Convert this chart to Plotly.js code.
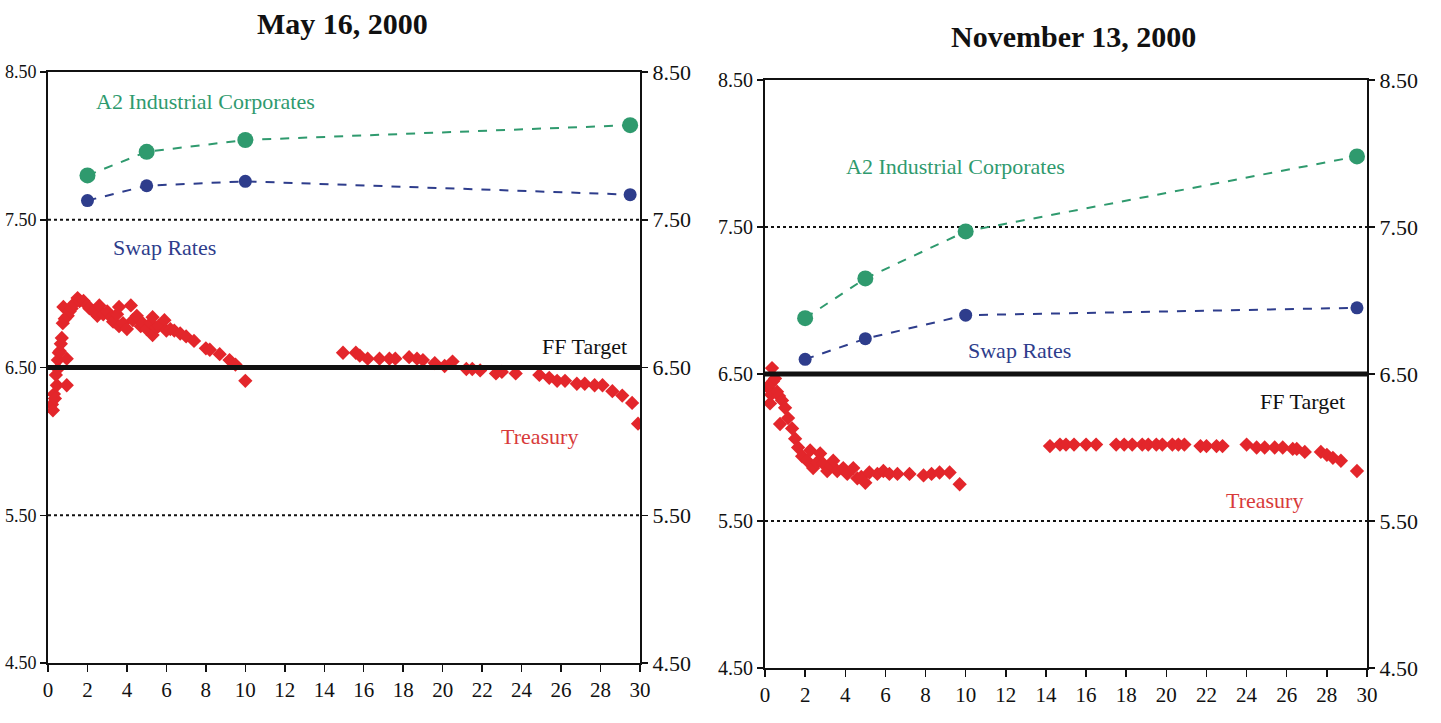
<!DOCTYPE html>
<html>
<head>
<meta charset="utf-8">
<script src="https://cdn.plot.ly/plotly-3.0.1.min.js"></script>
<style>html,body{margin:0;padding:0;background:#fff;}#chart{width:1441px;height:723px;}</style>
</head>
<body>
<div id="chart"></div>
<script>
// ---- Data ----
const panelTitles = ["May 16, 2000", "November 13, 2000"];
const xTickVals = [0,2,4,6,8,10,12,14,16,18,20,22,24,26,28,30];
const yTickVals = [4.5,5.5,6.5,7.5,8.5];
const ffTarget = 6.50;
const ffX = [0, 30];

// May 16, 2000
const mayCorpX = [2, 5, 10, 29.5];
const mayCorpY = [7.80, 7.96, 8.04, 8.14];
const maySwapX = [2, 5, 10, 29.5];
const maySwapY = [7.63, 7.73, 7.76, 7.67];
const mayTsyX = [0.2,0.25,0.3,0.35,0.4,0.45,0.5,0.5,0.55,0.6,0.65,0.7,0.75,0.78,0.85,0.95,0.95,1.0,1.1,1.2,1.3,1.5,1.6,1.8,2.0,2.1,2.3,2.5,2.6,2.8,3.0,3.2,3.3,3.5,3.6,3.6,3.8,4.0,4.2,4.3,4.5,4.7,4.8,5.0,5.2,5.3,5.3,5.5,5.6,5.9,6.0,6.2,6.4,6.7,7.0,7.4,8.0,8.2,8.7,9.2,9.5,10.0,
  14.95,15.6,15.8,16.2,16.8,17.3,17.6,18.3,18.7,19.0,19.6,20.1,20.5,21.2,21.5,21.9,22.7,23.0,23.7,24.9,25.4,25.8,26.2,26.8,27.2,27.7,28.1,28.6,29.1,29.6,29.9];
const mayTsyY = [6.25,6.21,6.32,6.29,6.45,6.38,6.49,6.55,6.60,6.61,6.66,6.70,6.80,6.91,6.83,6.38,6.56,6.85,6.88,6.90,6.93,6.97,6.95,6.95,6.92,6.90,6.88,6.85,6.92,6.86,6.88,6.84,6.81,6.86,6.91,6.78,6.80,6.76,6.92,6.82,6.85,6.78,6.80,6.76,6.80,6.72,6.84,6.77,6.78,6.82,6.75,6.76,6.75,6.73,6.71,6.68,6.63,6.62,6.59,6.55,6.52,6.41,
  6.60,6.60,6.58,6.56,6.56,6.56,6.56,6.57,6.56,6.55,6.53,6.51,6.54,6.49,6.49,6.48,6.46,6.47,6.46,6.45,6.43,6.41,6.41,6.39,6.39,6.38,6.38,6.34,6.31,6.26,6.12];

// November 13, 2000
const novCorpX = [2, 5, 10, 29.5];
const novCorpY = [6.88, 7.15, 7.47, 7.98];
const novSwapX = [2, 5, 10, 29.5];
const novSwapY = [6.60, 6.74, 6.90, 6.95];
const novTsyX = [0.2,0.25,0.25,0.3,0.35,0.4,0.5,0.6,0.7,0.75,0.85,1.0,1.15,1.35,1.5,1.65,1.85,2.1,2.25,2.4,2.6,2.75,2.9,3.1,3.3,3.4,3.6,3.9,4.1,4.4,4.6,4.8,5.0,5.2,5.6,5.9,6.2,6.6,7.2,7.9,8.3,8.7,9.2,9.7,
  14.2,14.7,15.0,15.4,16.0,16.5,17.5,17.9,18.3,18.8,19.1,19.5,19.8,20.3,20.6,20.9,21.7,22.0,22.5,22.8,24.0,24.5,24.9,25.4,25.8,26.3,26.5,26.9,27.7,28.0,28.3,28.7,29.5];
const novTsyY = [6.40,6.43,6.30,6.36,6.54,6.45,6.47,6.38,6.35,6.16,6.32,6.27,6.20,6.13,6.06,6.00,5.94,5.91,5.98,5.86,5.90,5.96,5.89,5.84,5.88,5.91,5.84,5.86,5.82,5.86,5.79,5.80,5.76,5.83,5.82,5.84,5.82,5.82,5.82,5.81,5.82,5.83,5.83,5.75,
  6.01,6.02,6.02,6.02,6.02,6.02,6.02,6.02,6.02,6.02,6.02,6.02,6.02,6.02,6.02,6.02,6.01,6.01,6.01,6.01,6.02,6.00,6.00,6.00,6.00,5.99,5.99,5.97,5.97,5.95,5.93,5.91,5.84];

// ---- Styles ----
const GREEN = '#2f9a6e', BLUE = '#2e3d8c', RED = '#e3262b';
const FONT = 'Liberation Serif';

function panel(xa, ya, ya2, corpX, corpY, swapX, swapY, tsyX, tsyY) {
  return [
    {x: ffX, y: [ffTarget, ffTarget], xaxis: xa, yaxis: ya2, mode: 'lines', line: {color: '#111', width: 5}, hoverinfo: 'skip'},
    {x: tsyX, y: tsyY, xaxis: xa, yaxis: ya, mode: 'markers', marker: {symbol: 'diamond', size: 11, color: RED}, name: 'Treasury'},
    {x: swapX, y: swapY, xaxis: xa, yaxis: ya, mode: 'lines+markers', line: {color: BLUE, width: 2, dash: 'dash'}, marker: {size: 13, color: BLUE}, name: 'Swap Rates'},
    {x: corpX, y: corpY, xaxis: xa, yaxis: ya, mode: 'lines+markers', line: {color: GREEN, width: 2, dash: 'dash'}, marker: {size: 16, color: GREEN}, name: 'A2 Industrial Corporates'}
  ];
}

const data = [].concat(
  panel('x', 'y', 'y2', mayCorpX, mayCorpY, maySwapX, maySwapY, mayTsyX, mayTsyY),
  panel('x2', 'y3', 'y4', novCorpX, novCorpY, novSwapX, novSwapY, novTsyX, novTsyY)
);

function xax(domain, anchor) {
  return {domain: domain, anchor: anchor, range: [0, 30], tickvals: xTickVals, ticktext: xTickVals.map(String),
    ticks: 'outside', ticklen: 7, tickwidth: 1.5, tickcolor: '#111', showgrid: false, zeroline: false,
    showline: true, linecolor: '#111', linewidth: 2, mirror: true,
    tickfont: {family: FONT, size: 21, color: '#111'}};
}
function yax(domain, anchor, side, overlay, fsize) {
  const a = {domain: domain, anchor: anchor, range: [4.5, 8.5], tickvals: yTickVals, tickformat: '.2f',
    ticks: 'outside', ticklen: 6, tickwidth: 1.5, tickcolor: '#111', showgrid: false, zeroline: false,
    showline: true, linecolor: '#111', linewidth: 2, side: side,
    tickfont: {family: FONT, size: fsize || 22, color: '#111'}};
  if (overlay) { a.overlaying = overlay; a.matches = overlay; }
  return a;
}

const xd1 = [48/1441, 640/1441], yd1 = [1-663/723, 1-72/723];
const xd2 = [765/1441, 1367/1441], yd2 = [1-668/723, 1-80/723];

function dotted(xref, yref, val) {
  return {type: 'line', xref: xref, yref: yref, x0: 0, x1: 30, y0: val, y1: val, line: {color: '#111', width: 2, dash: 'dot'}, layer: 'below'};
}

function ann(xref, yref, x, y, text, color, size) {
  return {xref: xref, yref: yref, x: x, y: y, xanchor: 'center', yanchor: 'middle', text: text, showarrow: false, font: {family: FONT, size: size || 22, color: color}};
}

const layout = {
  width: 1441, height: 723,
  margin: {l: 0, r: 0, t: 0, b: 0},
  paper_bgcolor: '#fff', plot_bgcolor: 'rgba(0,0,0,0)',
  showlegend: false,
  xaxis: xax(xd1, 'y'),
  yaxis: yax(yd1, 'x', 'left', null, 18),
  yaxis2: yax(yd1, 'x', 'right', 'y', 22),
  xaxis2: xax(xd2, 'y3'),
  yaxis3: yax(yd2, 'x2', 'left', null, 20),
  yaxis4: yax(yd2, 'x2', 'right', 'y3', 22),
  shapes: [dotted('x', 'y', 7.5), dotted('x', 'y', 5.5), dotted('x2', 'y3', 7.5), dotted('x2', 'y3', 5.5)],
  annotations: [
    {xref: 'paper', yref: 'paper', x: 342/1441, y: 1-23/723, xanchor: 'center', yanchor: 'middle', text: '<b>' + panelTitles[0] + '</b>', showarrow: false, font: {family: FONT, size: 30, color: '#111'}},
    {xref: 'paper', yref: 'paper', x: 1073/1441, y: 1-36/723, xanchor: 'center', yanchor: 'middle', text: '<b>' + panelTitles[1] + '</b>', showarrow: false, font: {family: FONT, size: 30, color: '#111'}},
    ann('x', 'y', 8.0, 8.30, 'A2 Industrial Corporates', GREEN),
    ann('x', 'y', 5.9, 7.31, 'Swap Rates', BLUE),
    ann('x', 'y', 27.2, 6.64, 'FF Target', '#111'),
    ann('x', 'y', 24.9, 6.03, 'Treasury', '#d83a3a'),
    ann('x2', 'y3', 9.5, 7.91, 'A2 Industrial Corporates', GREEN),
    ann('x2', 'y3', 12.7, 6.66, 'Swap Rates', BLUE),
    ann('x2', 'y3', 26.8, 6.31, 'FF Target', '#111'),
    ann('x2', 'y3', 24.9, 5.64, 'Treasury', '#d83a3a')
  ]
};

Plotly.newPlot('chart', data, layout, {displayModeBar: false, staticPlot: true});
</script>
</body>
</html>
